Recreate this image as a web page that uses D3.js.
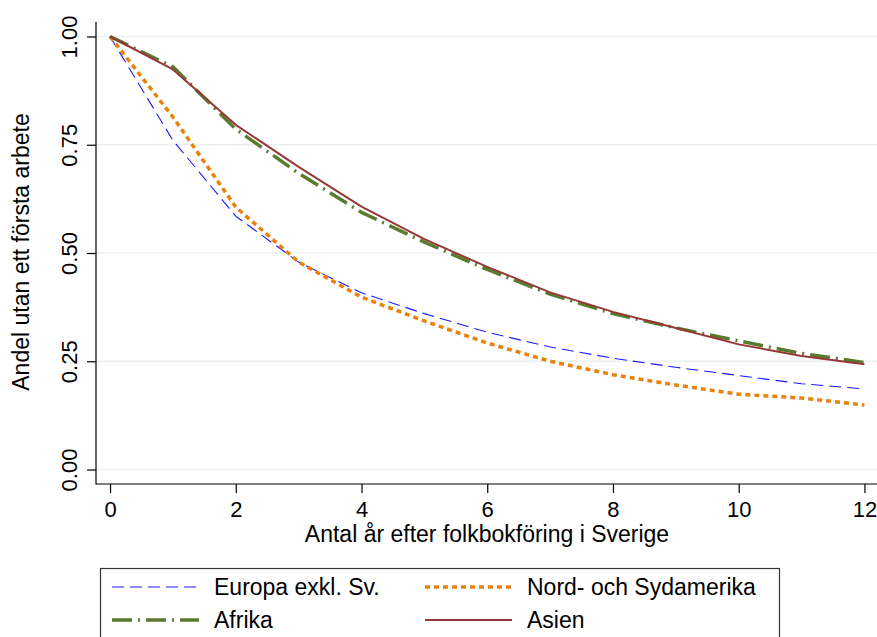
<!DOCTYPE html>
<html><head><meta charset="utf-8">
<script src="https://cdn.jsdelivr.net/npm/d3@7"></script>
<style>body{margin:0;background:#fff}svg{display:block}text{font-family:"Liberation Sans",Arial,sans-serif;fill:#000}</style>
</head><body><svg id="c" width="877" height="637"></svg>
<script>
const years = [0,1,2,3,4,5,6,7,8,9,10,11,12];
const europa = [1.0,0.76,0.585,0.479,0.408,0.36,0.317,0.283,0.257,0.236,0.217,0.198,0.186];
const amerika = [1.0,0.814,0.606,0.479,0.398,0.343,0.292,0.25,0.219,0.195,0.174,0.165,0.149];
const afrika = [1.0,0.93,0.786,0.684,0.594,0.525,0.462,0.405,0.36,0.327,0.297,0.268,0.247];
const asien = [1.0,0.924,0.796,0.699,0.607,0.532,0.468,0.409,0.364,0.327,0.289,0.262,0.243];
const xTicks = [0,2,4,6,8,10,12];
const yTicks = [0,0.25,0.5,0.75,1];
const seriesNames = ["Europa exkl. Sv.","Nord- och Sydamerika","Afrika","Asien"];

const svg = d3.select("#c");
const L=96, R=877, T=22, B=484;
const x = d3.scaleLinear().domain([-0.2235,12.2]).range([L,R]);
const y = d3.scaleLinear().domain([0,1]).range([469.5,36.5]);

// gridlines
svg.append("g").selectAll("line").data(yTicks).join("line")
  .attr("x1",L).attr("x2",R).attr("y1",d=>y(d)).attr("y2",d=>y(d))
  .attr("stroke","#eaf0f2").attr("stroke-width",1.5);

// axes
const ya = svg.append("g").attr("transform",`translate(${L},0)`)
  .call(d3.axisLeft(y).tickValues(yTicks).tickFormat(d3.format(".2f")).tickSize(9).tickSizeOuter(0));
ya.select(".domain").remove();
ya.append("line").attr("x1",0).attr("x2",0).attr("y1",T).attr("y2",B+0.5).attr("stroke","#000").attr("stroke-width",1.2);
ya.selectAll(".tick line").attr("stroke","#000").attr("stroke-width",1.2);
ya.selectAll(".tick text").attr("font-size",22).attr("text-anchor","middle")
  .attr("transform","translate(-19,0) rotate(-90)").attr("x",0).attr("y",0).attr("dy","0");

const xa = svg.append("g").attr("transform",`translate(0,${B})`)
  .call(d3.axisBottom(x).tickValues(xTicks).tickFormat(d3.format("d")).tickSize(9).tickSizeOuter(0));
xa.select(".domain").remove();
xa.append("line").attr("x1",L).attr("x2",R).attr("y1",0).attr("y2",0).attr("stroke","#000").attr("stroke-width",1.2);
xa.selectAll(".tick line").attr("stroke","#000").attr("stroke-width",1.2);
xa.selectAll(".tick text").attr("font-size",22).attr("y",17).attr("dy","0.71em");

svg.append("text").attr("x",487).attr("y",542).attr("text-anchor","middle").attr("font-size",23)
  .text("Antal år efter folkbokföring i Sverige");
svg.append("text").attr("transform","translate(29,252) rotate(-90)").attr("text-anchor","middle").attr("font-size",23)
  .text("Andel utan ett första arbete");

const styles = [
  {data:europa, color:"#1a1aff", w:1.1, dash:"12,6"},
  {data:amerika, color:"#e8820c", w:3.5, dash:"5,4"},
  {data:afrika, color:"#5a7a2e", w:3.5, dash:"20,6,2,6"},
  {data:asien, color:"#953838", w:2, dash:null}
];
const line = d3.line().x((d,i)=>x(years[i])).y(d=>y(d));
styles.forEach(s=>{
  svg.append("path").datum(s.data).attr("d",line).attr("fill","none")
    .attr("stroke",s.color).attr("stroke-width",s.w)
    .attr("stroke-dasharray",s.dash).attr("stroke-linejoin","round");
});

// legend
const lg = svg.append("g");
lg.append("rect").attr("x",100.5).attr("y",568.5).attr("width",679).attr("height",80)
  .attr("fill","#fff").attr("stroke","#333").attr("stroke-width",1.2);
const pos = [[112,587],[425,587],[112,620],[425,620]];
styles.forEach((s,i)=>{
  const [px,py]=pos[i];
  lg.append("line").attr("x1",px).attr("x2",px+87).attr("y1",py).attr("y2",py)
    .attr("stroke",s.color).attr("stroke-width",s.w).attr("stroke-dasharray",s.dash);
  lg.append("text").attr("x",px+102).attr("y",py).attr("dy","0.35em").attr("font-size",23).text(seriesNames[i]);
});
</script></body></html>
